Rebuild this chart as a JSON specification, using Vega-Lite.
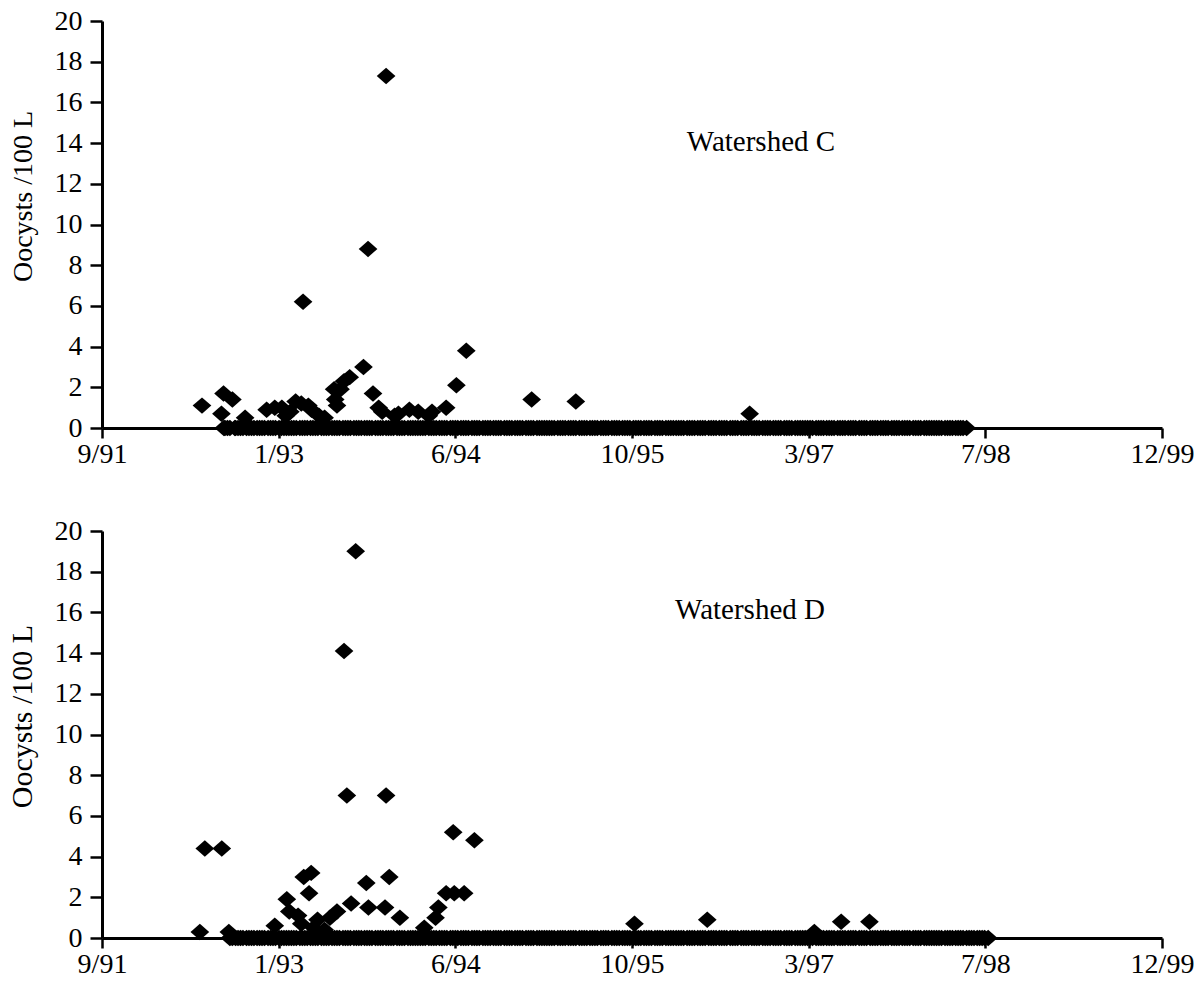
{
  "$schema": "https://vega.github.io/schema/vega-lite/v6.json",
  "background": "white",
  "padding": {"left": 7, "top": 7, "right": 5, "bottom": 5},
  "bounds": "flush",
  "spacing": 103,
  "config": {
    "view": {"stroke": null},
    "axis": {
      "grid": false,
      "domainColor": "black",
      "domainWidth": 3,
      "tickColor": "black",
      "tickWidth": 2.5,
      "labelColor": "black",
      "labelFont": "Liberation Serif",
      "labelFontSize": 28,
      "labelFlush": false,
      "labelOverlap": false,
      "titleFont": "Liberation Serif",
      "titleFontWeight": "normal",
      "titleColor": "black"
    },
    "axisX": {"tickSize": 10, "labelPadding": 2},
    "axisY": {"tickSize": 12, "labelPadding": 8}
  },
  "datasets": {
    "c": [
      {"d":"1992-06-28","v":1.1},{"d":"1992-08-22","v":0.7},{"d":"1992-08-28","v":1.7},{"d":"1992-09-22","v":1.4},
      {"d":"1992-10-28","v":0.5},{"d":"1992-12-28","v":0.9},{"d":"1993-01-20","v":1.0},{"d":"1993-02-09","v":1.0},
      {"d":"1993-02-20","v":0.6},{"d":"1993-03-05","v":0.8},{"d":"1993-03-20","v":1.3},{"d":"1993-04-05","v":1.2},
      {"d":"1993-04-10","v":6.2},{"d":"1993-04-25","v":1.1},{"d":"1993-05-04","v":0.9},{"d":"1993-05-25","v":0.6},
      {"d":"1993-06-10","v":0.5},{"d":"1993-07-07","v":1.9},{"d":"1993-07-10","v":1.4},{"d":"1993-07-15","v":1.1},
      {"d":"1993-07-25","v":1.9},{"d":"1993-08-04","v":2.3},{"d":"1993-08-20","v":2.5},{"d":"1993-09-28","v":3.0},
      {"d":"1993-10-11","v":8.8},{"d":"1993-10-25","v":1.7},{"d":"1993-11-10","v":1.0},{"d":"1993-11-20","v":0.8},
      {"d":"1993-12-01","v":17.3},{"d":"1993-12-25","v":0.6},{"d":"1994-01-05","v":0.7},{"d":"1994-02-05","v":0.9},
      {"d":"1994-03-02","v":0.8},{"d":"1994-04-01","v":0.6},{"d":"1994-04-10","v":0.8},{"d":"1994-05-20","v":1.0},
      {"d":"1994-06-18","v":2.1},{"d":"1994-07-16","v":3.8},{"d":"1995-01-17","v":1.4},{"d":"1995-05-22","v":1.3},
      {"d":"1996-09-25","v":0.7},
      {"d":"1992-08-29","v":0},
      {"d":"1992-09-01","v":0},{"d":"1992-09-08","v":0},{"d":"1992-09-15","v":0},{"d":"1992-09-29","v":0},
      {"d":"1992-10-01","v":0},{"d":"1992-10-08","v":0},{"d":"1992-10-15","v":0},{"d":"1992-10-22","v":0},
      {"d":"1992-11-01","v":0},{"d":"1992-11-08","v":0},{"d":"1992-11-15","v":0},{"d":"1992-11-22","v":0},
      {"d":"1992-12-01","v":0},{"d":"1992-12-08","v":0},{"d":"1992-12-15","v":0},{"d":"1992-12-22","v":0},
      {"d":"1993-01-01","v":0},{"d":"1993-01-08","v":0},{"d":"1993-01-15","v":0},{"d":"1993-01-22","v":0},
      {"d":"1993-02-01","v":0},{"d":"1993-02-08","v":0},{"d":"1993-02-15","v":0},{"d":"1993-02-22","v":0},
      {"d":"1993-03-01","v":0},{"d":"1993-03-08","v":0},{"d":"1993-03-15","v":0},{"d":"1993-03-22","v":0},
      {"d":"1993-04-01","v":0},{"d":"1993-04-08","v":0},{"d":"1993-04-15","v":0},{"d":"1993-04-22","v":0},
      {"d":"1993-05-01","v":0},{"d":"1993-05-08","v":0},{"d":"1993-05-15","v":0},{"d":"1993-05-22","v":0},
      {"d":"1993-06-01","v":0},{"d":"1993-06-08","v":0},{"d":"1993-06-15","v":0},{"d":"1993-06-22","v":0},
      {"d":"1993-07-01","v":0},{"d":"1993-07-08","v":0},{"d":"1993-07-15","v":0},{"d":"1993-07-22","v":0},
      {"d":"1993-08-01","v":0},{"d":"1993-08-08","v":0},{"d":"1993-08-15","v":0},{"d":"1993-08-22","v":0},
      {"d":"1993-09-01","v":0},{"d":"1993-09-08","v":0},{"d":"1993-09-15","v":0},{"d":"1993-09-22","v":0},
      {"d":"1993-10-01","v":0},{"d":"1993-10-08","v":0},{"d":"1993-10-15","v":0},{"d":"1993-10-22","v":0},
      {"d":"1993-11-01","v":0},{"d":"1993-11-08","v":0},{"d":"1993-11-15","v":0},{"d":"1993-11-22","v":0},
      {"d":"1993-12-01","v":0},{"d":"1993-12-08","v":0},{"d":"1993-12-15","v":0},{"d":"1993-12-22","v":0},
      {"d":"1994-01-01","v":0},{"d":"1994-01-08","v":0},{"d":"1994-01-15","v":0},{"d":"1994-01-22","v":0},
      {"d":"1994-02-01","v":0},{"d":"1994-02-08","v":0},{"d":"1994-02-15","v":0},{"d":"1994-02-22","v":0},
      {"d":"1994-03-01","v":0},{"d":"1994-03-08","v":0},{"d":"1994-03-15","v":0},{"d":"1994-03-22","v":0},
      {"d":"1994-04-01","v":0},{"d":"1994-04-08","v":0},{"d":"1994-04-15","v":0},{"d":"1994-04-22","v":0},
      {"d":"1994-05-01","v":0},{"d":"1994-05-08","v":0},{"d":"1994-05-15","v":0},{"d":"1994-05-22","v":0},
      {"d":"1994-06-01","v":0},{"d":"1994-06-08","v":0},{"d":"1994-06-15","v":0},{"d":"1994-06-22","v":0},
      {"d":"1994-07-01","v":0},{"d":"1994-07-08","v":0},{"d":"1994-07-15","v":0},{"d":"1994-07-22","v":0},
      {"d":"1994-08-01","v":0},{"d":"1994-08-08","v":0},{"d":"1994-08-15","v":0},{"d":"1994-08-22","v":0},
      {"d":"1994-09-01","v":0},{"d":"1994-09-08","v":0},{"d":"1994-09-15","v":0},{"d":"1994-09-22","v":0},
      {"d":"1994-10-01","v":0},{"d":"1994-10-08","v":0},{"d":"1994-10-15","v":0},{"d":"1994-10-22","v":0},
      {"d":"1994-11-01","v":0},{"d":"1994-11-08","v":0},{"d":"1994-11-15","v":0},{"d":"1994-11-22","v":0},
      {"d":"1994-12-01","v":0},{"d":"1994-12-08","v":0},{"d":"1994-12-15","v":0},{"d":"1994-12-22","v":0},
      {"d":"1995-01-01","v":0},{"d":"1995-01-08","v":0},{"d":"1995-01-15","v":0},{"d":"1995-01-22","v":0},
      {"d":"1995-02-01","v":0},{"d":"1995-02-08","v":0},{"d":"1995-02-15","v":0},{"d":"1995-02-22","v":0},
      {"d":"1995-03-01","v":0},{"d":"1995-03-08","v":0},{"d":"1995-03-15","v":0},{"d":"1995-03-22","v":0},
      {"d":"1995-04-01","v":0},{"d":"1995-04-08","v":0},{"d":"1995-04-15","v":0},{"d":"1995-04-22","v":0},
      {"d":"1995-05-01","v":0},{"d":"1995-05-08","v":0},{"d":"1995-05-15","v":0},{"d":"1995-05-22","v":0},
      {"d":"1995-06-01","v":0},{"d":"1995-06-08","v":0},{"d":"1995-06-15","v":0},{"d":"1995-06-22","v":0},
      {"d":"1995-07-01","v":0},{"d":"1995-07-08","v":0},{"d":"1995-07-15","v":0},{"d":"1995-07-22","v":0},
      {"d":"1995-08-01","v":0},{"d":"1995-08-08","v":0},{"d":"1995-08-15","v":0},{"d":"1995-08-22","v":0},
      {"d":"1995-09-01","v":0},{"d":"1995-09-08","v":0},{"d":"1995-09-15","v":0},{"d":"1995-09-22","v":0},
      {"d":"1995-10-01","v":0},{"d":"1995-10-08","v":0},{"d":"1995-10-15","v":0},{"d":"1995-10-22","v":0},
      {"d":"1995-11-01","v":0},{"d":"1995-11-08","v":0},{"d":"1995-11-15","v":0},{"d":"1995-11-22","v":0},
      {"d":"1995-12-01","v":0},{"d":"1995-12-08","v":0},{"d":"1995-12-15","v":0},{"d":"1995-12-22","v":0},
      {"d":"1996-01-01","v":0},{"d":"1996-01-08","v":0},{"d":"1996-01-15","v":0},{"d":"1996-01-22","v":0},
      {"d":"1996-02-01","v":0},{"d":"1996-02-08","v":0},{"d":"1996-02-15","v":0},{"d":"1996-02-22","v":0},
      {"d":"1996-03-01","v":0},{"d":"1996-03-08","v":0},{"d":"1996-03-15","v":0},{"d":"1996-03-22","v":0},
      {"d":"1996-04-01","v":0},{"d":"1996-04-08","v":0},{"d":"1996-04-15","v":0},{"d":"1996-04-22","v":0},
      {"d":"1996-05-01","v":0},{"d":"1996-05-08","v":0},{"d":"1996-05-15","v":0},{"d":"1996-05-22","v":0},
      {"d":"1996-06-01","v":0},{"d":"1996-06-08","v":0},{"d":"1996-06-15","v":0},{"d":"1996-06-22","v":0},
      {"d":"1996-07-01","v":0},{"d":"1996-07-08","v":0},{"d":"1996-07-15","v":0},{"d":"1996-07-22","v":0},
      {"d":"1996-08-01","v":0},{"d":"1996-08-08","v":0},{"d":"1996-08-15","v":0},{"d":"1996-08-22","v":0},
      {"d":"1996-09-01","v":0},{"d":"1996-09-08","v":0},{"d":"1996-09-15","v":0},{"d":"1996-09-22","v":0},
      {"d":"1996-10-01","v":0},{"d":"1996-10-08","v":0},{"d":"1996-10-15","v":0},{"d":"1996-10-22","v":0},
      {"d":"1996-11-01","v":0},{"d":"1996-11-08","v":0},{"d":"1996-11-15","v":0},{"d":"1996-11-22","v":0},
      {"d":"1996-12-01","v":0},{"d":"1996-12-08","v":0},{"d":"1996-12-15","v":0},{"d":"1996-12-22","v":0},
      {"d":"1997-01-01","v":0},{"d":"1997-01-08","v":0},{"d":"1997-01-15","v":0},{"d":"1997-01-22","v":0},
      {"d":"1997-02-01","v":0},{"d":"1997-02-08","v":0},{"d":"1997-02-15","v":0},{"d":"1997-02-22","v":0},
      {"d":"1997-03-01","v":0},{"d":"1997-03-08","v":0},{"d":"1997-03-15","v":0},{"d":"1997-03-22","v":0},
      {"d":"1997-04-01","v":0},{"d":"1997-04-08","v":0},{"d":"1997-04-15","v":0},{"d":"1997-04-22","v":0},
      {"d":"1997-05-01","v":0},{"d":"1997-05-08","v":0},{"d":"1997-05-15","v":0},{"d":"1997-05-22","v":0},
      {"d":"1997-06-01","v":0},{"d":"1997-06-08","v":0},{"d":"1997-06-15","v":0},{"d":"1997-06-22","v":0},
      {"d":"1997-07-01","v":0},{"d":"1997-07-08","v":0},{"d":"1997-07-15","v":0},{"d":"1997-07-22","v":0},
      {"d":"1997-08-01","v":0},{"d":"1997-08-08","v":0},{"d":"1997-08-15","v":0},{"d":"1997-08-22","v":0},
      {"d":"1997-09-01","v":0},{"d":"1997-09-08","v":0},{"d":"1997-09-15","v":0},{"d":"1997-09-22","v":0},
      {"d":"1997-10-01","v":0},{"d":"1997-10-08","v":0},{"d":"1997-10-15","v":0},{"d":"1997-10-22","v":0},
      {"d":"1997-11-01","v":0},{"d":"1997-11-08","v":0},{"d":"1997-11-15","v":0},{"d":"1997-11-22","v":0},
      {"d":"1997-12-01","v":0},{"d":"1997-12-08","v":0},{"d":"1997-12-15","v":0},{"d":"1997-12-22","v":0},
      {"d":"1998-01-01","v":0},{"d":"1998-01-08","v":0},{"d":"1998-01-15","v":0},{"d":"1998-01-22","v":0},
      {"d":"1998-02-01","v":0},{"d":"1998-02-08","v":0},{"d":"1998-02-15","v":0},{"d":"1998-02-22","v":0},
      {"d":"1998-03-01","v":0},{"d":"1998-03-08","v":0},{"d":"1998-03-15","v":0},{"d":"1998-03-22","v":0},
      {"d":"1998-04-01","v":0},{"d":"1998-04-08","v":0},{"d":"1998-04-15","v":0},{"d":"1998-04-22","v":0},
      {"d":"1998-05-01","v":0},{"d":"1998-05-08","v":0},{"d":"1998-05-15","v":0},{"d":"1998-05-22","v":0},
      {"d":"1998-06-01","v":0}
    ],
    "d": [
      {"d":"1992-06-22","v":0.3},{"d":"1992-07-06","v":4.4},{"d":"1992-08-23","v":4.4},{"d":"1992-09-12","v":0.3},
      {"d":"1993-01-20","v":0.6},{"d":"1993-02-23","v":1.9},{"d":"1993-03-02","v":1.3},{"d":"1993-03-27","v":1.1},
      {"d":"1993-04-05","v":0.7},{"d":"1993-04-12","v":3.0},{"d":"1993-04-27","v":2.2},{"d":"1993-05-03","v":3.2},
      {"d":"1993-05-10","v":0.5},{"d":"1993-05-21","v":0.9},{"d":"1993-06-10","v":0.4},{"d":"1993-06-25","v":1.0},
      {"d":"1993-07-15","v":1.3},{"d":"1993-08-04","v":14.1},{"d":"1993-08-12","v":7.0},{"d":"1993-08-24","v":1.7},
      {"d":"1993-09-06","v":19.0},{"d":"1993-10-06","v":2.7},{"d":"1993-10-12","v":1.5},{"d":"1993-11-28","v":1.5},
      {"d":"1993-12-01","v":7.0},{"d":"1993-12-10","v":3.0},{"d":"1994-01-09","v":1.0},{"d":"1994-03-19","v":0.5},
      {"d":"1994-04-20","v":1.0},{"d":"1994-04-28","v":1.5},{"d":"1994-05-20","v":2.2},{"d":"1994-06-09","v":5.2},
      {"d":"1994-06-12","v":2.2},{"d":"1994-07-10","v":2.2},{"d":"1994-08-08","v":4.8},{"d":"1995-11-04","v":0.7},
      {"d":"1996-05-28","v":0.9},{"d":"1997-03-27","v":0.3},{"d":"1997-06-11","v":0.8},{"d":"1997-08-30","v":0.8},
      {"d":"1992-09-15","v":0},{"d":"1992-09-22","v":0},
      {"d":"1992-10-01","v":0},{"d":"1992-10-08","v":0},{"d":"1992-10-15","v":0},{"d":"1992-10-22","v":0},
      {"d":"1992-11-01","v":0},{"d":"1992-11-08","v":0},{"d":"1992-11-15","v":0},{"d":"1992-11-22","v":0},
      {"d":"1992-12-01","v":0},{"d":"1992-12-08","v":0},{"d":"1992-12-15","v":0},{"d":"1992-12-22","v":0},
      {"d":"1993-01-01","v":0},{"d":"1993-01-08","v":0},{"d":"1993-01-15","v":0},{"d":"1993-01-22","v":0},
      {"d":"1993-02-01","v":0},{"d":"1993-02-08","v":0},{"d":"1993-02-15","v":0},{"d":"1993-02-22","v":0},
      {"d":"1993-03-01","v":0},{"d":"1993-03-08","v":0},{"d":"1993-03-15","v":0},{"d":"1993-03-22","v":0},
      {"d":"1993-04-01","v":0},{"d":"1993-04-08","v":0},{"d":"1993-04-15","v":0},{"d":"1993-04-22","v":0},
      {"d":"1993-05-01","v":0},{"d":"1993-05-08","v":0},{"d":"1993-05-15","v":0},{"d":"1993-05-22","v":0},
      {"d":"1993-06-01","v":0},{"d":"1993-06-08","v":0},{"d":"1993-06-15","v":0},{"d":"1993-06-22","v":0},
      {"d":"1993-07-01","v":0},{"d":"1993-07-08","v":0},{"d":"1993-07-15","v":0},{"d":"1993-07-22","v":0},
      {"d":"1993-08-01","v":0},{"d":"1993-08-08","v":0},{"d":"1993-08-15","v":0},{"d":"1993-08-22","v":0},
      {"d":"1993-09-01","v":0},{"d":"1993-09-08","v":0},{"d":"1993-09-15","v":0},{"d":"1993-09-22","v":0},
      {"d":"1993-10-01","v":0},{"d":"1993-10-08","v":0},{"d":"1993-10-15","v":0},{"d":"1993-10-22","v":0},
      {"d":"1993-11-01","v":0},{"d":"1993-11-08","v":0},{"d":"1993-11-15","v":0},{"d":"1993-11-22","v":0},
      {"d":"1993-12-01","v":0},{"d":"1993-12-08","v":0},{"d":"1993-12-15","v":0},{"d":"1993-12-22","v":0},
      {"d":"1994-01-01","v":0},{"d":"1994-01-08","v":0},{"d":"1994-01-15","v":0},{"d":"1994-01-22","v":0},
      {"d":"1994-02-01","v":0},{"d":"1994-02-08","v":0},{"d":"1994-02-15","v":0},{"d":"1994-02-22","v":0},
      {"d":"1994-03-01","v":0},{"d":"1994-03-08","v":0},{"d":"1994-03-15","v":0},{"d":"1994-03-22","v":0},
      {"d":"1994-04-01","v":0},{"d":"1994-04-08","v":0},{"d":"1994-04-15","v":0},{"d":"1994-04-22","v":0},
      {"d":"1994-05-01","v":0},{"d":"1994-05-08","v":0},{"d":"1994-05-15","v":0},{"d":"1994-05-22","v":0},
      {"d":"1994-06-01","v":0},{"d":"1994-06-08","v":0},{"d":"1994-06-15","v":0},{"d":"1994-06-22","v":0},
      {"d":"1994-07-01","v":0},{"d":"1994-07-08","v":0},{"d":"1994-07-15","v":0},{"d":"1994-07-22","v":0},
      {"d":"1994-08-01","v":0},{"d":"1994-08-08","v":0},{"d":"1994-08-15","v":0},{"d":"1994-08-22","v":0},
      {"d":"1994-09-01","v":0},{"d":"1994-09-08","v":0},{"d":"1994-09-15","v":0},{"d":"1994-09-22","v":0},
      {"d":"1994-10-01","v":0},{"d":"1994-10-08","v":0},{"d":"1994-10-15","v":0},{"d":"1994-10-22","v":0},
      {"d":"1994-11-01","v":0},{"d":"1994-11-08","v":0},{"d":"1994-11-15","v":0},{"d":"1994-11-22","v":0},
      {"d":"1994-12-01","v":0},{"d":"1994-12-08","v":0},{"d":"1994-12-15","v":0},{"d":"1994-12-22","v":0},
      {"d":"1995-01-01","v":0},{"d":"1995-01-08","v":0},{"d":"1995-01-15","v":0},{"d":"1995-01-22","v":0},
      {"d":"1995-02-01","v":0},{"d":"1995-02-08","v":0},{"d":"1995-02-15","v":0},{"d":"1995-02-22","v":0},
      {"d":"1995-03-01","v":0},{"d":"1995-03-08","v":0},{"d":"1995-03-15","v":0},{"d":"1995-03-22","v":0},
      {"d":"1995-04-01","v":0},{"d":"1995-04-08","v":0},{"d":"1995-04-15","v":0},{"d":"1995-04-22","v":0},
      {"d":"1995-05-01","v":0},{"d":"1995-05-08","v":0},{"d":"1995-05-15","v":0},{"d":"1995-05-22","v":0},
      {"d":"1995-06-01","v":0},{"d":"1995-06-08","v":0},{"d":"1995-06-15","v":0},{"d":"1995-06-22","v":0},
      {"d":"1995-07-01","v":0},{"d":"1995-07-08","v":0},{"d":"1995-07-15","v":0},{"d":"1995-07-22","v":0},
      {"d":"1995-08-01","v":0},{"d":"1995-08-08","v":0},{"d":"1995-08-15","v":0},{"d":"1995-08-22","v":0},
      {"d":"1995-09-01","v":0},{"d":"1995-09-08","v":0},{"d":"1995-09-15","v":0},{"d":"1995-09-22","v":0},
      {"d":"1995-10-01","v":0},{"d":"1995-10-08","v":0},{"d":"1995-10-15","v":0},{"d":"1995-10-22","v":0},
      {"d":"1995-11-01","v":0},{"d":"1995-11-08","v":0},{"d":"1995-11-15","v":0},{"d":"1995-11-22","v":0},
      {"d":"1995-12-01","v":0},{"d":"1995-12-08","v":0},{"d":"1995-12-15","v":0},{"d":"1995-12-22","v":0},
      {"d":"1996-01-01","v":0},{"d":"1996-01-08","v":0},{"d":"1996-01-15","v":0},{"d":"1996-01-22","v":0},
      {"d":"1996-02-01","v":0},{"d":"1996-02-08","v":0},{"d":"1996-02-15","v":0},{"d":"1996-02-22","v":0},
      {"d":"1996-03-01","v":0},{"d":"1996-03-08","v":0},{"d":"1996-03-15","v":0},{"d":"1996-03-22","v":0},
      {"d":"1996-04-01","v":0},{"d":"1996-04-08","v":0},{"d":"1996-04-15","v":0},{"d":"1996-04-22","v":0},
      {"d":"1996-05-01","v":0},{"d":"1996-05-08","v":0},{"d":"1996-05-15","v":0},{"d":"1996-05-22","v":0},
      {"d":"1996-06-01","v":0},{"d":"1996-06-08","v":0},{"d":"1996-06-15","v":0},{"d":"1996-06-22","v":0},
      {"d":"1996-07-01","v":0},{"d":"1996-07-08","v":0},{"d":"1996-07-15","v":0},{"d":"1996-07-22","v":0},
      {"d":"1996-08-01","v":0},{"d":"1996-08-08","v":0},{"d":"1996-08-15","v":0},{"d":"1996-08-22","v":0},
      {"d":"1996-09-01","v":0},{"d":"1996-09-08","v":0},{"d":"1996-09-15","v":0},{"d":"1996-09-22","v":0},
      {"d":"1996-10-01","v":0},{"d":"1996-10-08","v":0},{"d":"1996-10-15","v":0},{"d":"1996-10-22","v":0},
      {"d":"1996-11-01","v":0},{"d":"1996-11-08","v":0},{"d":"1996-11-15","v":0},{"d":"1996-11-22","v":0},
      {"d":"1996-12-01","v":0},{"d":"1996-12-08","v":0},{"d":"1996-12-15","v":0},{"d":"1996-12-22","v":0},
      {"d":"1997-01-01","v":0},{"d":"1997-01-08","v":0},{"d":"1997-01-15","v":0},{"d":"1997-01-22","v":0},
      {"d":"1997-02-01","v":0},{"d":"1997-02-08","v":0},{"d":"1997-02-15","v":0},{"d":"1997-02-22","v":0},
      {"d":"1997-03-01","v":0},{"d":"1997-03-08","v":0},{"d":"1997-03-15","v":0},{"d":"1997-03-22","v":0},
      {"d":"1997-04-01","v":0},{"d":"1997-04-08","v":0},{"d":"1997-04-15","v":0},{"d":"1997-04-22","v":0},
      {"d":"1997-05-01","v":0},{"d":"1997-05-08","v":0},{"d":"1997-05-15","v":0},{"d":"1997-05-22","v":0},
      {"d":"1997-06-01","v":0},{"d":"1997-06-08","v":0},{"d":"1997-06-15","v":0},{"d":"1997-06-22","v":0},
      {"d":"1997-07-01","v":0},{"d":"1997-07-08","v":0},{"d":"1997-07-15","v":0},{"d":"1997-07-22","v":0},
      {"d":"1997-08-01","v":0},{"d":"1997-08-08","v":0},{"d":"1997-08-15","v":0},{"d":"1997-08-22","v":0},
      {"d":"1997-09-01","v":0},{"d":"1997-09-08","v":0},{"d":"1997-09-15","v":0},{"d":"1997-09-22","v":0},
      {"d":"1997-10-01","v":0},{"d":"1997-10-08","v":0},{"d":"1997-10-15","v":0},{"d":"1997-10-22","v":0},
      {"d":"1997-11-01","v":0},{"d":"1997-11-08","v":0},{"d":"1997-11-15","v":0},{"d":"1997-11-22","v":0},
      {"d":"1997-12-01","v":0},{"d":"1997-12-08","v":0},{"d":"1997-12-15","v":0},{"d":"1997-12-22","v":0},
      {"d":"1998-01-01","v":0},{"d":"1998-01-08","v":0},{"d":"1998-01-15","v":0},{"d":"1998-01-22","v":0},
      {"d":"1998-02-01","v":0},{"d":"1998-02-08","v":0},{"d":"1998-02-15","v":0},{"d":"1998-02-22","v":0},
      {"d":"1998-03-01","v":0},{"d":"1998-03-08","v":0},{"d":"1998-03-15","v":0},{"d":"1998-03-22","v":0},
      {"d":"1998-04-01","v":0},{"d":"1998-04-08","v":0},{"d":"1998-04-15","v":0},{"d":"1998-04-22","v":0},
      {"d":"1998-05-01","v":0},{"d":"1998-05-08","v":0},{"d":"1998-05-15","v":0},{"d":"1998-05-22","v":0},
      {"d":"1998-06-01","v":0},{"d":"1998-06-08","v":0},{"d":"1998-06-15","v":0},{"d":"1998-06-22","v":0},
      {"d":"1998-07-01","v":0},{"d":"1998-07-08","v":0},{"d":"1998-07-15","v":0},{"d":"1998-07-22","v":0},
      {"d":"1998-08-01","v":0}
    ]
  },
  "vconcat": [
    {
      "width": 1060,
      "height": 407,
      "layer": [
        {
          "data": {"name": "c"},
          "mark": {"type": "point", "shape": "M-1,0L0,-0.88L1,0L0,0.88Z", "filled": true, "color": "black", "opacity": 1, "size": 350},
          "encoding": {
            "x": {
              "field": "d", "type": "temporal",
              "scale": {"type": "utc", "domain": [{"year": 1991, "month": 9, "date": 19, "utc": true}, {"year": 1999, "month": 12, "date": 6, "utc": true}]},
              "axis": {
                "title": null,
                "labelExpr": "utcFormat(datum.value, '%-m/%y')",
                "values": [
                  {"year": 1991, "month": 9, "date": 19, "utc": true},
                  {"year": 1993, "month": 1, "date": 31, "utc": true},
                  {"year": 1994, "month": 6, "date": 15, "utc": true},
                  {"year": 1995, "month": 10, "date": 28, "utc": true},
                  {"year": 1997, "month": 3, "date": 11, "utc": true},
                  {"year": 1998, "month": 7, "date": 24, "utc": true},
                  {"year": 1999, "month": 12, "date": 6, "utc": true}
                ]
              }
            },
            "y": {
              "field": "v", "type": "quantitative",
              "scale": {"domain": [0, 20], "nice": false},
              "axis": {"title": "Oocysts /100 L", "titleFontSize": 28, "titleX": -65, "titleY": 175, "values": [0, 2, 4, 6, 8, 10, 12, 14, 16, 18, 20]}
            }
          }
        },
        {
          "data": {"values": [{"d": "1996-10-27", "v": 14.05, "t": "Watershed C"}]},
          "mark": {"type": "text", "font": "Liberation Serif", "fontSize": 29, "color": "black", "baseline": "middle", "align": "center"},
          "encoding": {
            "x": {"field": "d", "type": "temporal"},
            "y": {"field": "v", "type": "quantitative"},
            "text": {"field": "t"}
          }
        }
      ]
    },
    {
      "width": 1060,
      "height": 407,
      "layer": [
        {
          "data": {"name": "d"},
          "mark": {"type": "point", "shape": "M-1,0L0,-0.88L1,0L0,0.88Z", "filled": true, "color": "black", "opacity": 1, "size": 350},
          "encoding": {
            "x": {
              "field": "d", "type": "temporal",
              "scale": {"type": "utc", "domain": [{"year": 1991, "month": 9, "date": 19, "utc": true}, {"year": 1999, "month": 12, "date": 6, "utc": true}]},
              "axis": {
                "title": null,
                "labelExpr": "utcFormat(datum.value, '%-m/%y')",
                "values": [
                  {"year": 1991, "month": 9, "date": 19, "utc": true},
                  {"year": 1993, "month": 1, "date": 31, "utc": true},
                  {"year": 1994, "month": 6, "date": 15, "utc": true},
                  {"year": 1995, "month": 10, "date": 28, "utc": true},
                  {"year": 1997, "month": 3, "date": 11, "utc": true},
                  {"year": 1998, "month": 7, "date": 24, "utc": true},
                  {"year": 1999, "month": 12, "date": 6, "utc": true}
                ]
              }
            },
            "y": {
              "field": "v", "type": "quantitative",
              "scale": {"domain": [0, 20], "nice": false},
              "axis": {"title": "Oocysts /100 L", "titleFontSize": 30, "titleX": -65, "titleY": 185, "values": [0, 2, 4, 6, 8, 10, 12, 14, 16, 18, 20]}
            }
          }
        },
        {
          "data": {"values": [{"d": "1996-09-26", "v": 16.1, "t": "Watershed D"}]},
          "mark": {"type": "text", "font": "Liberation Serif", "fontSize": 29, "color": "black", "baseline": "middle", "align": "center"},
          "encoding": {
            "x": {"field": "d", "type": "temporal"},
            "y": {"field": "v", "type": "quantitative"},
            "text": {"field": "t"}
          }
        }
      ]
    }
  ]
}
